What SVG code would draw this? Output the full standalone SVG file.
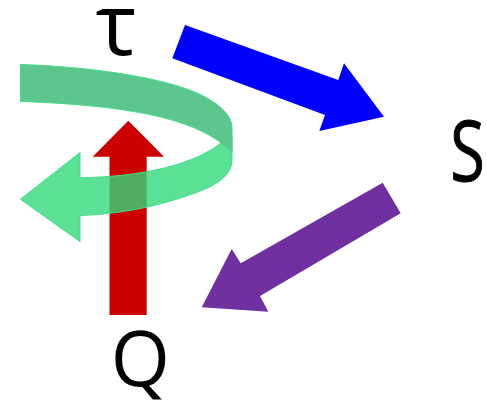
<svg xmlns="http://www.w3.org/2000/svg" width="487" height="401" viewBox="0 0 487 401">
  <style>
    .lbl { font-family: "Open Sans", "Liberation Sans", sans-serif; fill: #000000; text-anchor: middle; }
    .green { stroke: #45dd8a; stroke-width: 1; stroke-linejoin: round; }
  </style>
  <rect width="487" height="401" fill="#ffffff"/>
  <g id="connectors">
    <polygon id="arrow-tau-S" points="185,25 338.3,80 344,63.3 384,116.7 319.3,131 325,115 172.3,58.3" fill="#0000ff"/>
    <polygon id="arrow-S-Q" points="382.7,182.7 400.7,213.3 260,296 268.3,311.7 201.7,307.3 231.7,249 240.7,263.3" fill="#7030a0"/>
    <polygon id="arrow-Q-up" points="109.5,315 109.5,156.7 92.7,156.7 128.3,120.7 164,156.7 146.7,156.7 146.7,315" fill="#cc0000"/>
    <g id="rotation-arrow">
      <path class="green" fill="#31d97c" fill-opacity="0.8" d="M80,177.7 C140,177 195,165 222,142 L232,135 L232,160 C232,176 215,186 195,193 C170,202 130,214 80,215.5 L80,241.5 L20.5,199.3 L80,152.5 Z"/>
      <path class="green" fill="#5cc68e" d="M20.5,64.5 C100,67 175,80 205,97 C225,108 232,118 232,128 L232,152 L221,142.7 C195,124 150,106 20.5,101.5 Z"/>
    </g>
  </g>
  <g id="node-tau">
    <text class="lbl" x="116" y="55" font-size="86">τ</text>
  </g>
  <g id="node-S">
    <text class="lbl" transform="translate(467.5,180.5) scale(0.75,1)" x="0" y="0" font-size="84" stroke="#000000" stroke-width="1">S</text>
  </g>
  <g id="node-Q">
    <text class="lbl" x="140.3" y="386" font-size="76">Q</text>
  </g>
</svg>
